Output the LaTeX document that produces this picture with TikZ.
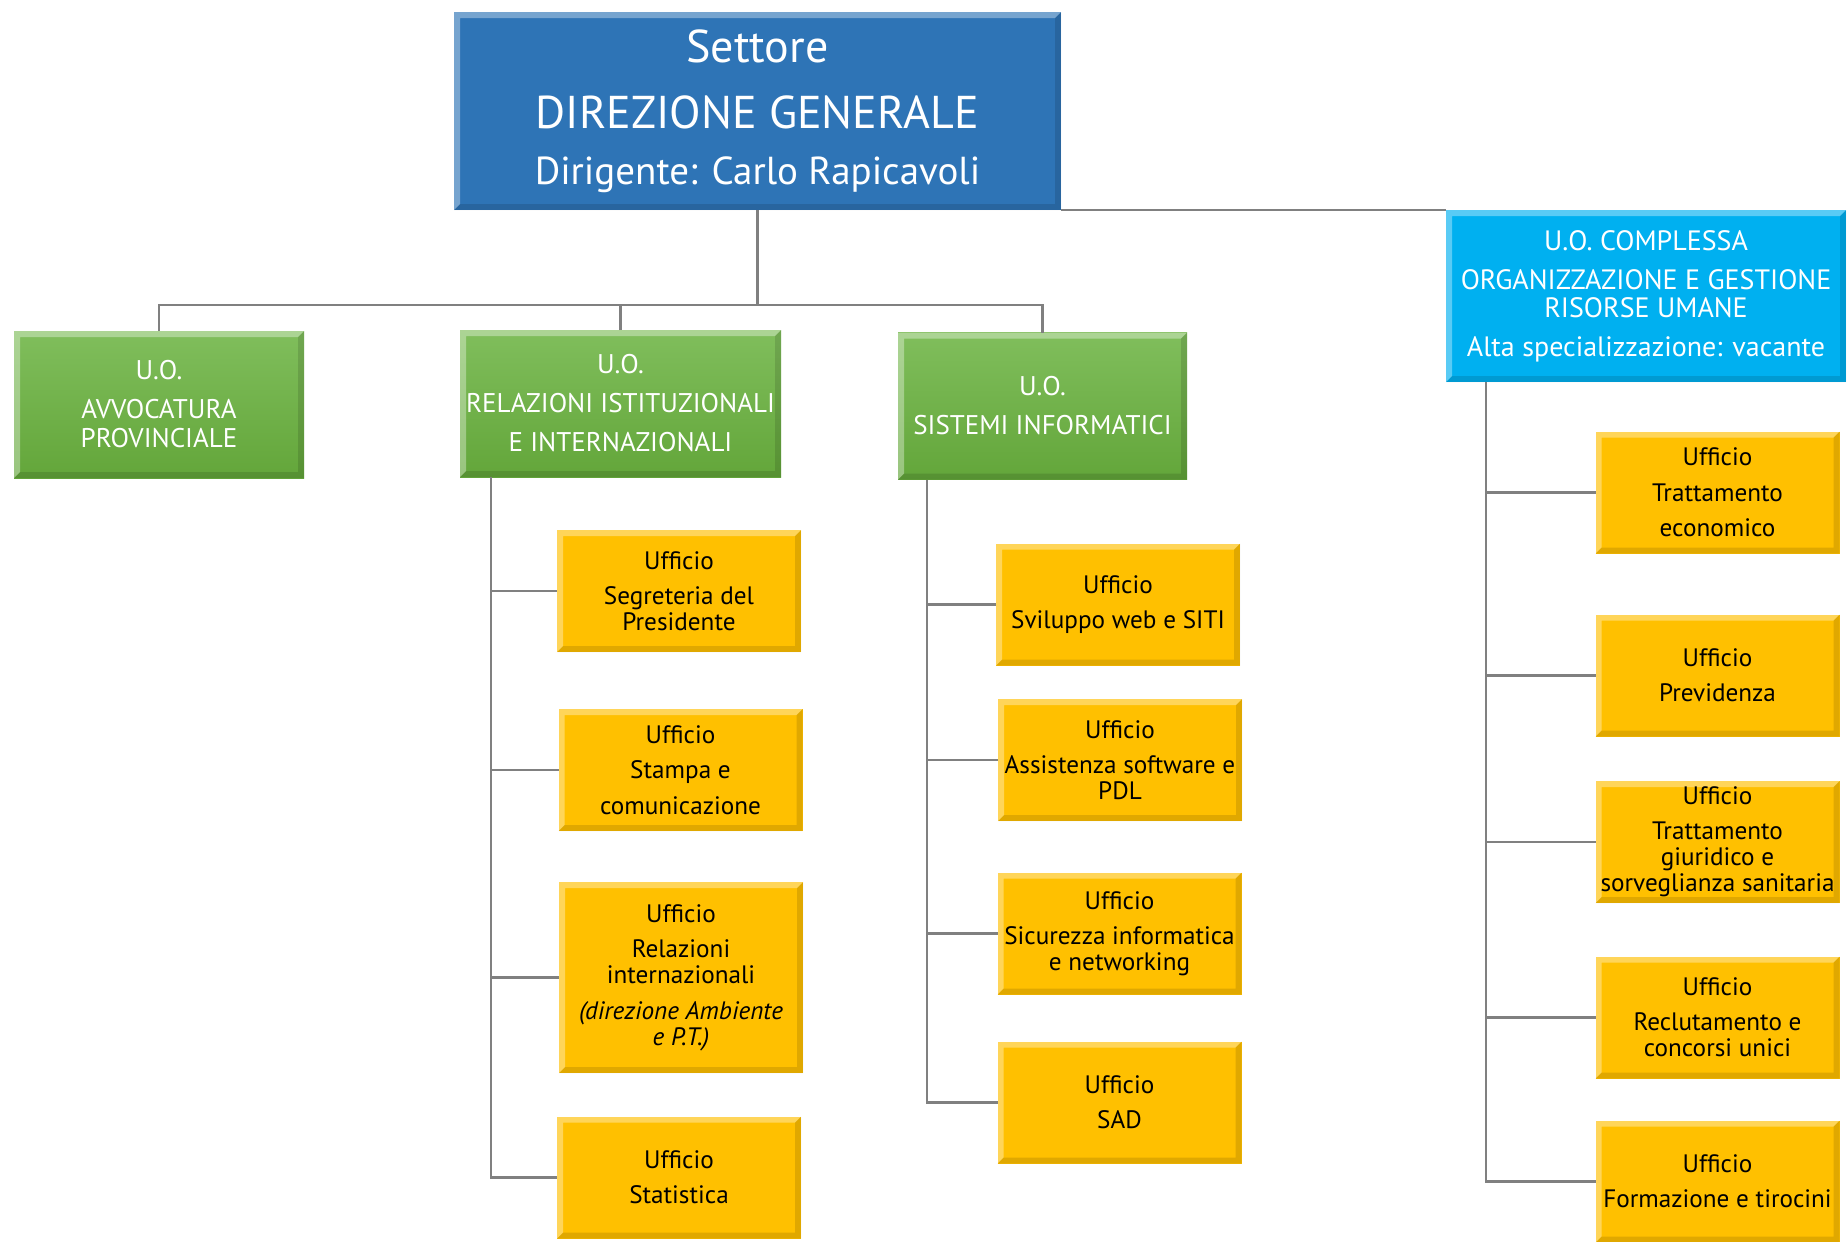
\documentclass[tikz,border=0pt]{standalone}
\usepackage{fontspec}
\setmainfont{PT Sans}
\usetikzlibrary{positioning,calc}

\definecolor{dirblue}{RGB}{46,116,182}
\definecolor{cplblue}{RGB}{0,176,240}
\definecolor{greentop}{RGB}{128,190,92}
\definecolor{greenbot}{RGB}{99,166,58}
\definecolor{uffyellow}{RGB}{255,192,0}
\definecolor{linkgray}{RGB}{128,128,128}

\begin{document}
\begin{tikzpicture}[x=0.5pt,y=-0.5pt,
bevel/.style={path picture={
  \coordinate (bnw) at (path picture bounding box.north west);
  \coordinate (bne) at (path picture bounding box.north east);
  \coordinate (bsw) at (path picture bounding box.south west);
  \coordinate (bse) at (path picture bounding box.south east);
  \fill[white,opacity=0.35] (bsw) -- (bnw) -- (bne) -- ++(-3pt,-3pt) -- ($(bnw)+(3pt,-3pt)$) -- ($(bsw)+(3pt,3pt)$) -- cycle;
  \fill[black,opacity=0.12] (bsw) -- (bse) -- (bne) -- ++(-3pt,-3pt) -- ($(bse)+(-3pt,3pt)$) -- ($(bsw)+(3pt,3pt)$) -- cycle;}},
box/.style={rectangle,align=center,inner sep=2pt,outer sep=0pt,bevel},
settore/.style={box,fill=dirblue,text=white,minimum width=303.5pt,minimum height=99pt,font=\fontsize{23}{33}\selectfont},
uo/.style={box,top color=greentop,bottom color=greenbot,text=white,minimum height=73.5pt,font=\fontsize{13.5}{14.5}\selectfont},
complessa/.style={box,fill=cplblue,text=white,minimum width=200pt,minimum height=86pt,font=\fontsize{14}{14}\selectfont},
ufficio/.style={box,fill=uffyellow,minimum width=122pt,minimum height=61pt,font=\fontsize{12.6}{13}\selectfont},
conn/.style={draw=linkgray,line width=1.2pt}]

\useasboundingbox (0,0) rectangle (1848,1242);

% settore
\node[settore] (dir) at (757.5,111) {Settore\\DIREZIONE GENERALE\\[-5pt]{\fontsize{19.5}{24}\selectfont Dirigente: Carlo Rapicavoli}};

% unita operative
\node[uo,minimum width=145pt] (avv) at (159,404.5) {U.O.\\[5pt]AVVOCATURA\\PROVINCIALE};
\node[uo,minimum width=160.5pt] (rel) at (620.5,403.5) {U.O.\\[5pt]RELAZIONI ISTITUZIONALI\\[5pt]E INTERNAZIONALI};
\node[uo,minimum width=144.5pt] (sis) at (1042.5,406) {U.O.\\[5pt]SISTEMI INFORMATICI};
\node[complessa] (cpl) at (1646,296) {U.O. COMPLESSA\\[5.5pt]ORGANIZZAZIONE E GESTIONE\\RISORSE UMANE\\[5.5pt]Alta specializzazione: vacante};

% uffici relazioni
\node[ufficio] (rel1) at (679,591) {Ufficio\\[4.7pt]Segreteria del\\Presidente};
\node[ufficio] (rel2) at (680.5,770) {Ufficio\\[4.7pt]Stampa e\\[4.7pt]comunicazione};
\node[ufficio,minimum height=95.5pt] (rel3) at (681,977.5) {Ufficio\\[4.7pt]Relazioni\\internazionali\\[4.7pt]\textit{(direzione Ambiente}\\\textit{e P.T.)}};
\node[ufficio] (rel4) at (679,1177.5) {Ufficio\\[4.7pt]Statistica};

% uffici sistemi
\node[ufficio] (sis1) at (1118,604.5) {Ufficio\\[4.7pt]Sviluppo web e SITI};
\node[ufficio] (sis2) at (1120,760) {Ufficio\\[4.7pt]Assistenza software e\\PDL};
\node[ufficio] (sis3) at (1119.5,933.5) {Ufficio\\[4.7pt]Sicurezza informatica\\e networking};
\node[ufficio] (sis4) at (1119.5,1102.5) {Ufficio\\[4.7pt]SAD};

% uffici complessa
\node[ufficio] (cpl1) at (1717.5,492.5) {Ufficio\\[4.7pt]Trattamento\\[4.7pt]economico};
\node[ufficio] (cpl2) at (1717.5,675.5) {Ufficio\\[4.7pt]Previdenza};
\node[ufficio] (cpl3) at (1717.5,842) {Ufficio\\[4.7pt]Trattamento\\giuridico e\\sorveglianza sanitaria};
\node[ufficio] (cpl4) at (1717.5,1017.5) {Ufficio\\[4.7pt]Reclutamento e\\concorsi unici};
\node[ufficio] (cpl5) at (1717.5,1181.5) {Ufficio\\[4.7pt]Formazione e tirocini};

% connectors
\coordinate (bus) at ($(dir.south)+(0,95)$);
\draw[conn] (dir.south) -- (bus);
\draw[conn] (avv.north) |- (bus) -| (sis.north);
\draw[conn] (rel.north) -- (rel.north |- bus);
\draw[conn] (dir.south east) -- (cpl.north west);

\coordinate (relspine) at ($(rel.south west)+(31,0)$);
\coordinate (sisspine) at ($(sis.south west)+(29,0)$);
\coordinate (cplspine) at ($(cpl.south west)+(40,0)$);
\draw[conn] (relspine) |- (rel4.west);
\draw[conn] (sisspine) |- (sis4.west);
\draw[conn] (cplspine) |- (cpl5.west);
\foreach \i in {1,2,3}{
  \draw[conn] (rel\i.west) -- (rel\i.west -| relspine);
  \draw[conn] (sis\i.west) -- (sis\i.west -| sisspine);
}
\foreach \i in {1,2,3,4}
  \draw[conn] (cpl\i.west) -- (cpl\i.west -| cplspine);
\end{tikzpicture}
\end{document}
